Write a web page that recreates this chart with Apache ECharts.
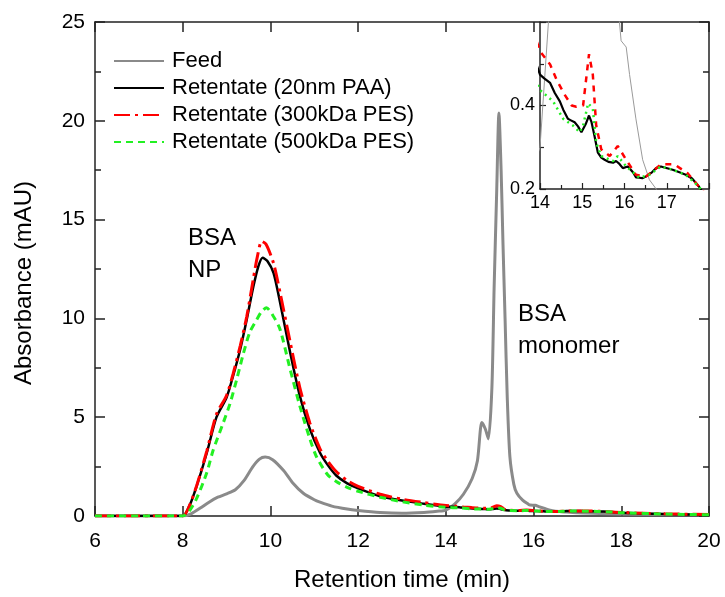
<!DOCTYPE html>
<html><head><meta charset="utf-8">
<script src="https://cdn.jsdelivr.net/npm/echarts@6/dist/echarts.min.js"></script>
<style>html,body{margin:0;padding:0;background:#fff}#c{width:725px;height:597px}</style>
</head><body><div id="c"></div>
<script>
// ---- data ----
const seriesNames = ['Feed', 'Retentate (20nm PAA)', 'Retentate (300kDa PES)', 'Retentate (500kDa PES)'];

const feedTime = [6, 7, 8, 8.2, 8.4, 8.6, 8.8, 9.0, 9.2, 9.4, 9.6, 9.75, 9.88, 10.05, 10.3, 10.5, 10.75, 11.0, 11.13, 11.4, 11.75, 12.0, 12.5, 13.0, 13.5, 13.8, 14.0, 14.2, 14.4, 14.6, 14.72, 14.82, 14.9, 14.97, 15.05, 15.1, 15.16, 15.21, 15.26, 15.3, 15.35, 15.4, 15.46, 15.55, 15.62, 15.75, 15.88, 15.92, 16.04, 16.12, 16.27, 16.43, 16.59, 16.75, 17.0, 17.5, 18, 19, 20];
const feedAbs  = [0, 0, 0, 0.12, 0.4, 0.7, 0.95, 1.12, 1.33, 1.8, 2.5, 2.88, 2.98, 2.85, 2.3, 1.7, 1.15, 0.82, 0.7, 0.5, 0.35, 0.28, 0.18, 0.14, 0.18, 0.24, 0.3, 0.6, 1.1, 1.9, 2.8, 4.73, 4.4, 3.9, 6.5, 11.5, 16.5, 20.4, 17.5, 14, 10, 6, 3.0, 1.6, 1.15, 0.8, 0.6, 0.555, 0.54, 0.474, 0.368, 0.27, 0.222, 0.2, 0.16, 0.13, 0.1, 0.08, 0.07];

const paaTime = [6, 7, 8, 8.15, 8.32, 8.55, 8.77, 9.0, 9.15, 9.31, 9.46, 9.61, 9.72, 9.82, 9.93, 10.07, 10.22, 10.45, 10.67, 10.9, 11.13, 11.3, 11.5, 11.75, 12, 12.5, 13, 13.5, 14.0, 14.1, 14.24, 14.35, 14.47, 14.55, 14.66, 14.72, 14.82, 14.9, 14.98, 15.08, 15.16, 15.22, 15.29, 15.37, 15.45, 15.53, 15.62, 15.73, 15.8, 15.88, 15.96, 16.08, 16.2, 16.27, 16.35, 16.42, 16.51, 16.65, 16.75, 16.86, 17.14, 17.3, 17.45, 17.6, 17.76, 18, 19, 20];
const paaAbs  = [0, 0, 0, 0.5, 1.53, 3.2, 5.0, 6.0, 7.1, 8.43, 9.95, 11.6, 12.6, 13.07, 12.9, 12.3, 10.8, 8.27, 6.08, 4.4, 3.2, 2.6, 2.05, 1.65, 1.4, 1.0, 0.78, 0.62, 0.474, 0.465, 0.454, 0.43, 0.41, 0.39, 0.368, 0.365, 0.36, 0.35, 0.336, 0.355, 0.376, 0.36, 0.327, 0.287, 0.275, 0.27, 0.265, 0.263, 0.267, 0.26, 0.25, 0.254, 0.24, 0.228, 0.227, 0.226, 0.23, 0.24, 0.25, 0.254, 0.246, 0.24, 0.234, 0.225, 0.206, 0.17, 0.1, 0.06];

const pes300Time = [6, 7, 8, 8.15, 8.32, 8.55, 8.77, 9.0, 9.15, 9.31, 9.46, 9.61, 9.7, 9.8, 9.9, 10.07, 10.22, 10.45, 10.67, 10.9, 11.13, 11.3, 11.5, 11.75, 12, 12.5, 13, 13.5, 14.0, 14.24, 14.4, 14.59, 14.75, 14.86, 15.02, 15.1, 15.16, 15.25, 15.33, 15.45, 15.65, 15.84, 16.04, 16.27, 16.51, 16.7, 16.86, 17.18, 17.49, 17.76, 18, 19, 20];
const pes300Abs  = [0, 0, 0, 0.5, 1.55, 3.3, 5.15, 6.1, 7.2, 8.6, 10.1, 12.0, 13.1, 13.9, 13.75, 12.8, 11.3, 8.8, 6.5, 4.7, 3.4, 2.8, 2.25, 1.8, 1.5, 1.1, 0.85, 0.68, 0.53, 0.498, 0.46, 0.425, 0.40, 0.397, 0.40, 0.47, 0.523, 0.474, 0.352, 0.295, 0.279, 0.303, 0.27, 0.234, 0.23, 0.245, 0.259, 0.259, 0.238, 0.206, 0.18, 0.11, 0.07];

const pes500Time = [6, 7, 8, 8.15, 8.32, 8.55, 8.69, 8.93, 9.08, 9.23, 9.38, 9.53, 9.69, 9.8, 9.91, 10.07, 10.22, 10.45, 10.67, 10.9, 11.05, 11.3, 11.5, 11.75, 12, 12.5, 13, 13.5, 14.0, 14.31, 14.55, 14.78, 14.94, 15.02, 15.14, 15.25, 15.33, 15.45, 15.73, 15.84, 16.04, 16.35, 16.59, 16.86, 17.14, 17.45, 17.76, 18, 19, 20];
const pes500Abs  = [0, 0, 0, 0.25, 0.9, 2.2, 3.3, 4.75, 5.7, 6.9, 8.2, 9.3, 9.95, 10.35, 10.54, 10.1, 9.44, 7.42, 5.57, 3.9, 3.0, 2.1, 1.75, 1.45, 1.25, 0.95, 0.72, 0.55, 0.437, 0.41, 0.368, 0.352, 0.336, 0.352, 0.405, 0.393, 0.311, 0.279, 0.267, 0.279, 0.254, 0.227, 0.234, 0.254, 0.246, 0.234, 0.206, 0.17, 0.1, 0.06];

const mainXTicks = {min: 6, max: 20, interval: 2};
const mainYTicks = {min: 0, max: 25, interval: 5};
const insetXTicks = {min: 14, max: 18, interval: 1};
const insetYTicks = {min: 0.2, max: 0.6, interval: 0.2};
const annotationTexts = ['BSA\nNP', 'BSA\nmonomer'];

// ---- chart ----
const zip = (t, a) => t.map((x, i) => [x, a[i]]);
const FONT = 'Liberation Sans, Arial, sans-serif';
const AX = '#222';
const chart = echarts.init(document.getElementById('c'));

const styles = [
  {color: '#8a8a8a', width: 3, type: 'solid', insetColor: '#9a9a9a', insetWidth: 1, insetType: 'solid'},
  {color: '#000000', width: 2.5, type: 'solid', insetColor: '#000000', insetWidth: 2.2, insetType: 'solid'},
  {color: '#ff0000', width: 3, type: [16, 5, 3, 5], insetColor: '#ff0000', insetWidth: 2.5, insetType: [6, 6]},
  {color: '#22f022', width: 3, type: [7, 5], insetColor: '#22f022', insetWidth: 2.5, insetType: [2, 4]}
];
const datasets = [zip(feedTime, feedAbs), zip(paaTime, paaAbs), zip(pes300Time, pes300Abs), zip(pes500Time, pes500Abs)];

const series = [];
datasets.forEach((d, i) => {
  series.push({
    name: seriesNames[i], type: 'line', xAxisIndex: 0, yAxisIndex: 0, data: d,
    symbol: 'none', smooth: 0.25, clip: true, z: 2 + i,
    lineStyle: {color: styles[i].color, width: styles[i].width, type: styles[i].type},
    itemStyle: {color: styles[i].color}
  });
});
datasets.forEach((d, i) => {
  series.push({
    name: 'inset ' + seriesNames[i], type: 'line', xAxisIndex: 2, yAxisIndex: 2, data: d,
    symbol: 'none', smooth: false, clip: true, z: 2 + i,
    lineStyle: {color: styles[i].insetColor, width: styles[i].insetWidth, type: styles[i].insetType}
  });
});

const tickLbl = (size, margin, extra) => Object.assign({fontSize: size, color: '#000', fontFamily: FONT, margin: margin}, extra || {});

const option = {
  animation: false,
  backgroundColor: '#fff',
  grid: [
    {left: 95, top: 22, width: 614, height: 495},
    {left: 540, top: 22, width: 169, height: 167}
  ],
  legend: {
    data: seriesNames, orient: 'vertical', left: 113, top: 50, padding: 0,
    itemWidth: 50, itemHeight: 14, itemGap: 5,
    itemStyle: {opacity: 0},
    textStyle: {fontSize: 22, color: '#000', fontFamily: FONT, lineHeight: 22, padding: [0, 0, 0, 3]}
  },
  xAxis: [
    {type: 'value', gridIndex: 0, position: 'bottom', ...mainXTicks,
     axisLine: {onZero: false, lineStyle: {color: AX, width: 1.5}},
     axisTick: {inside: true, length: 10, lineStyle: {color: AX, width: 1.5}},
     axisLabel: tickLbl(21, 15), splitLine: {show: false},
     name: 'Retention time (min)', nameLocation: 'middle', nameGap: 52,
     nameTextStyle: {fontSize: 24, color: '#000', fontFamily: FONT}},
    {type: 'value', gridIndex: 0, position: 'top', ...mainXTicks,
     axisLine: {onZero: false, lineStyle: {color: AX, width: 1.5}},
     axisTick: {inside: true, length: 10, lineStyle: {color: AX, width: 1.5}},
     axisLabel: {show: false}, splitLine: {show: false}},
    {type: 'value', gridIndex: 1, position: 'bottom', ...insetXTicks,
     axisLine: {onZero: false, lineStyle: {color: AX, width: 1.5}},
     axisTick: {inside: true, length: 6, lineStyle: {color: AX, width: 1.2}},
     minorTick: {show: true, splitNumber: 2, length: 4, lineStyle: {color: AX, width: 1.2}},
     axisLabel: tickLbl(18, 5, {showMaxLabel: false}), splitLine: {show: false}, minorSplitLine: {show: false}}
  ],
  yAxis: [
    {type: 'value', gridIndex: 0, position: 'left', ...mainYTicks,
     axisLine: {show: true, onZero: false, lineStyle: {color: AX, width: 1.5}},
     axisTick: {show: true, inside: true, length: 10, lineStyle: {color: AX, width: 1.5}},
     minorTick: {show: true, splitNumber: 2, length: 6, lineStyle: {color: AX, width: 1.5}},
     axisLabel: tickLbl(21, 10), splitLine: {show: false}, minorSplitLine: {show: false}},
    {type: 'value', gridIndex: 0, position: 'right', ...mainYTicks,
     axisLine: {show: true, onZero: false, lineStyle: {color: AX, width: 1.5}},
     axisTick: {show: true, inside: true, length: 10, lineStyle: {color: AX, width: 1.5}},
     minorTick: {show: true, splitNumber: 2, length: 6, lineStyle: {color: AX, width: 1.5}},
     axisLabel: {show: false}, splitLine: {show: false}, minorSplitLine: {show: false}},
    {type: 'value', gridIndex: 1, position: 'left', ...insetYTicks,
     axisLine: {show: true, onZero: false, lineStyle: {color: AX, width: 1.5}},
     axisTick: {show: true, inside: true, length: 6, lineStyle: {color: AX, width: 1.2}},
     minorTick: {show: true, splitNumber: 2, length: 4, lineStyle: {color: AX, width: 1.2}},
     axisLabel: tickLbl(18, 5, {showMaxLabel: false, formatter: v => v.toFixed(1)}),
     splitLine: {show: false}, minorSplitLine: {show: false}}
  ],
  series: series,
  graphic: [
    {type: 'text', x: 24, y: 283, rotation: Math.PI / 2,
     style: {text: 'Absorbance (mAU)', fontSize: 24, fill: '#000', fontFamily: FONT, align: 'center', verticalAlign: 'middle'}},
    {type: 'text', x: 188, y: 222,
     style: {text: annotationTexts[0], fontSize: 24, lineHeight: 32, fill: '#000', fontFamily: FONT, align: 'left', verticalAlign: 'top'}},
    {type: 'text', x: 518, y: 298,
     style: {text: annotationTexts[1], fontSize: 24, lineHeight: 32, fill: '#000', fontFamily: FONT, align: 'left', verticalAlign: 'top'}}
  ]
};
chart.setOption(option);
</script>
</body></html>
